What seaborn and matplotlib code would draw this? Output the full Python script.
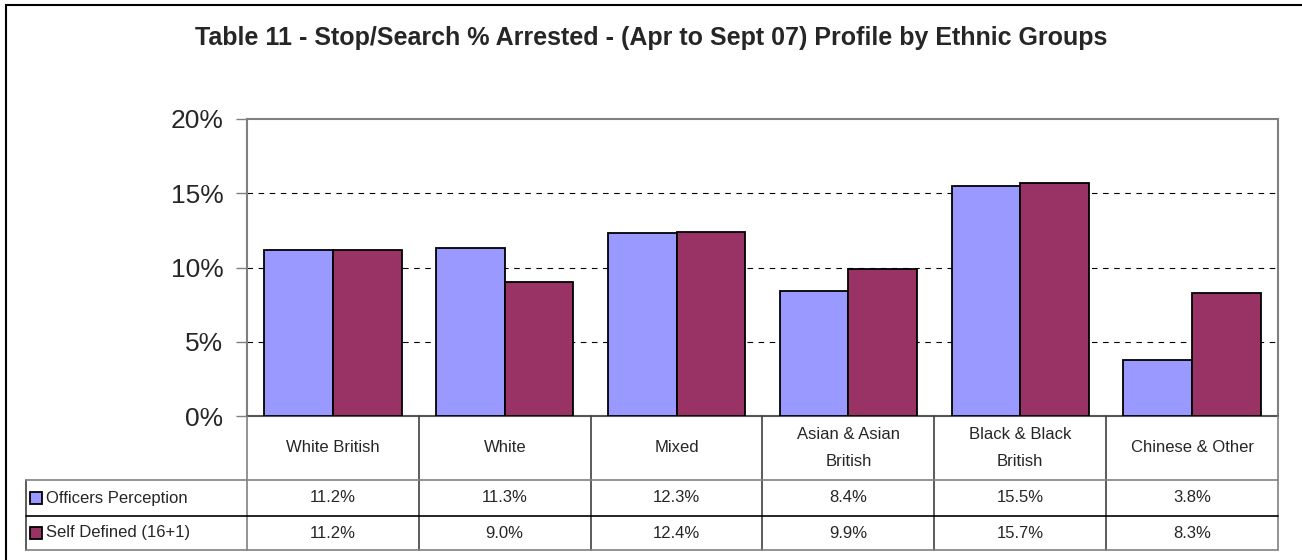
import numpy as np
import pandas as pd
import matplotlib
matplotlib.use('Agg')
import matplotlib.pyplot as plt
import matplotlib.transforms as mtransforms
from matplotlib.patches import Rectangle
from matplotlib.lines import Line2D
from matplotlib.ticker import PercentFormatter
import seaborn as sns

# --- data ---
groups = ['White British', 'White', 'Mixed', 'Asian & Asian\nBritish',
          'Black & Black\nBritish', 'Chinese & Other']
series_names = ['Officers Perception', 'Self Defined (16+1)']
officers = [11.2, 11.3, 12.3, 8.4, 15.5, 3.8]
self_defined = [11.2, 9.0, 12.4, 9.9, 15.7, 8.3]
colors = ['#9999FF', '#993366']
title = 'Table 11 - Stop/Search % Arrested - (Apr to Sept 07) Profile by Ethnic Groups'

df = pd.DataFrame({
    'group': groups * 2,
    'series': [series_names[0]] * 6 + [series_names[1]] * 6,
    'value': [v / 100 for v in officers + self_defined],
})

sns.set_style('white')
plt.rcParams['font.family'] = ['Liberation Sans', 'DejaVu Sans']

W, H = 1302, 560
fig = plt.figure(figsize=(W / 100, H / 100), dpi=100)

def fx(px):
    return px / W

def fy(py):
    return 1 - py / H

left, right, top, bottom = 247, 1278, 119, 416
ax = fig.add_axes([fx(left), fy(bottom), fx(right - left), fy(top) - fy(bottom)])

sns.barplot(data=df, x='group', y='value', hue='series', palette=colors,
            saturation=1, width=0.8, edgecolor='black', linewidth=1.3, ax=ax,
            legend=False, zorder=3)

ax.set_ylim(0, 0.2)
ax.set_xlim(-0.5, 5.5)
ax.set_yticks([0, 0.05, 0.10, 0.15, 0.20])
ax.yaxis.set_major_formatter(PercentFormatter(1.0, decimals=0))
ax.tick_params(axis='y', labelsize=19, length=8, width=1, color='#808080',
               direction='out', left=True, pad=9)
ax.set_xticks([])
ax.set_xlabel('')
ax.set_ylabel('')
for s in ['left', 'right', 'top', 'bottom']:
    ax.spines[s].set_color('#808080')
    ax.spines[s].set_linewidth(1.5)
ax.spines['bottom'].set_color('#555555')
for yv in [0.05, 0.10, 0.15]:
    ax.axhline(yv, color='black', linestyle=(0, (5, 5)), linewidth=0.8, zorder=1)

# --- data table below the plot ---
bt = mtransforms.blended_transform_factory(ax.transData, fig.transFigure)
row_top, row1, row2, row_bot = 416, 480, 516, 550
tbl_left = 26

# vertical column lines
for i in range(7):
    xb = i - 0.5
    fig.add_artist(Line2D([xb, xb], [fy(row_top), fy(row_bot)], transform=bt,
                          color='#808080' if i in (0, 6) else '#404040', lw=1.2))
fig.add_artist(Line2D([fx(tbl_left), fx(tbl_left)], [fy(row1), fy(row_bot)],
                      transform=fig.transFigure, color='#404040', lw=1.2))
for yy, c in [(row1, '#808080'), (row2, 'black'), (row_bot, '#808080')]:
    fig.add_artist(Line2D([fx(tbl_left), fx(right)], [fy(yy), fy(yy)],
                          transform=fig.transFigure, color=c, lw=1.2))

for i, g in enumerate(groups):
    fig.text(i, fy((row_top + row1) / 2), g, transform=bt, ha='center',
             va='center', fontsize=12, linespacing=2.0)
    fig.text(i, fy((row1 + row2) / 2), f'{officers[i]:.1f}%', transform=bt,
             ha='center', va='center', fontsize=12)
    fig.text(i, fy((row2 + row_bot) / 2), f'{self_defined[i]:.1f}%', transform=bt,
             ha='center', va='center', fontsize=12)

for k, (name, col) in enumerate(zip(series_names, colors)):
    yc = (row1 + row2) / 2 if k == 0 else (row2 + row_bot) / 2
    fig.add_artist(Rectangle((fx(30), fy(yc + 6)), fx(12), fy(yc - 6) - fy(yc + 6),
                             transform=fig.transFigure, facecolor=col,
                             edgecolor='black', lw=1.3))
    fig.text(fx(46), fy(yc), name, ha='left', va='center', fontsize=12)

fig.text(0.5, fy(38), title, ha='center', va='center', fontsize=18,
         fontweight='bold')

# outer chart frame
fig.add_artist(Rectangle((fx(6), fy(H + 10)), fx(W + 10), fy(5) - fy(H + 10),
                         transform=fig.transFigure, fill=False,
                         edgecolor='black', lw=1.5))

fig.savefig('out.png', dpi=100)
